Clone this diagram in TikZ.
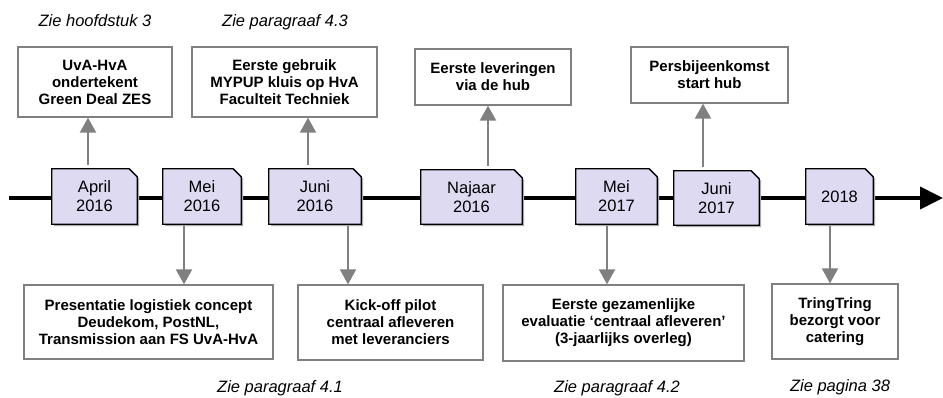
\documentclass[tikz,border=0pt]{standalone}
\usepackage{fontspec}
\setmainfont{Liberation Sans}
\usetikzlibrary{arrows.meta,backgrounds}
\definecolor{boxgray}{RGB}{128,128,128}
\definecolor{arrgray}{RGB}{128,128,128}
\definecolor{datefill}{RGB}{221,218,242}
\definecolor{shadowgray}{RGB}{170,170,170}
\newcommand{\boxfont}{\fontsize{15}{17}\selectfont\bfseries}
\newcommand{\datefont}{\fontsize{16.5}{19}\selectfont}
\newcommand{\notefont}{\fontsize{16.5}{19}\selectfont\itshape}
\begin{document}
\begin{tikzpicture}[x=1pt,y=-1pt,
  infobox/.style={draw=boxgray, line width=1.3pt, fill=white, align=center, font=\boxfont, inner sep=0pt},
  datebox/.style={align=center, font=\datefont, inner sep=0pt},
  note/.style={font=\notefont, anchor=base},
  conn/.style={draw=arrgray, line width=2pt, -{Triangle[length=15pt,width=16pt]}},
  timeline/.style={line width=4pt, -{Triangle[length=23pt,width=22pt]}}
]
\useasboundingbox (0,0) rectangle (943,397);

% top labels
\node[note] (n1) at (95,26) {Zie hoofdstuk 3};
\node[note] (n2) at (285,26) {Zie paragraaf 4.3};
% bottom labels
\node[note] (n3) at (280,392) {Zie paragraaf 4.1};
\node[note] (n4) at (617,392) {Zie paragraaf 4.2};
\node[note] (n5) at (840,391) {Zie pagina 38};

% top boxes
\node[infobox, minimum width=154pt, minimum height=70pt] (t1) at (95,82) {UvA-HvA\\ondertekent\\Green Deal ZES};
\node[infobox, minimum width=185pt, minimum height=70pt] (t2) at (284.5,82) {Eerste gebruik\\MYPUP kluis op HvA\\Faculteit Techniek};
\node[infobox, minimum width=156pt, minimum height=56pt] (t3) at (493,77) {Eerste leveringen\\via de hub};
\node[infobox, minimum width=157pt, minimum height=56pt] (t4) at (709.5,75) {Persbijeenkomst\\start hub};

% bottom boxes
\node[infobox, minimum width=249pt, minimum height=74pt] (b1) at (148.5,322) {Presentatie logistiek concept\\Deudekom, PostNL,\\Transmission aan FS UvA-HvA};
\node[infobox, minimum width=185pt, minimum height=75pt] (b2) at (390.5,322.5) {Kick-off pilot\\centraal afleveren\\met leveranciers};
\node[infobox, minimum width=241pt, minimum height=76pt] (b3) at (623.5,323) {Eerste gezamenlijke\\evaluatie `centraal afleveren'\\(3-jaarlijks overleg)};
\node[infobox, minimum width=126pt, minimum height=75pt] (b4) at (835,321.5) {TringTring\\bezorgt voor\\catering};

% date boxes
\node[datebox, minimum width=85pt, minimum height=55pt] (d1) at (94.5,196.5) {April\\2016};
\node[datebox, minimum width=78pt, minimum height=55pt] (d2) at (202,196.5) {Mei\\2016};
\node[datebox, minimum width=92pt, minimum height=55pt] (d3) at (315,196.5) {Juni\\2016};
\node[datebox, minimum width=101pt, minimum height=54pt] (d4) at (471.5,197) {Najaar\\2016};
\node[datebox, minimum width=81pt, minimum height=55pt] (d5) at (616.5,196.5) {Mei\\2017};
\node[datebox, minimum width=85pt, minimum height=54pt] (d6) at (716.5,198) {Juni\\2017};
\node[datebox, minimum width=67pt, minimum height=55pt] (d7) at (839.5,196.5) {2018};

\begin{scope}[on background layer]
  \coordinate (tlstart) at (9,198);
  \coordinate (tlend) at (943,198);
  \draw[timeline] (tlstart) -- (tlend);
  \foreach \n in {d1,d2,d3,d4,d5,d6,d7} {
    \fill[shadowgray] ([shift={(2pt,-2pt)}]\n.south west) -- ([shift={(2pt,-2pt)}]\n.north west)
      -- ([shift={(-6pt,-2pt)}]\n.north east) -- ([shift={(2pt,-10pt)}]\n.north east)
      -- ([shift={(2pt,-2pt)}]\n.south east) -- cycle;
    \filldraw[fill=datefill, draw=black, line width=1.3pt, line join=miter]
      (\n.south west) -- (\n.north west) -- ([xshift=-8pt]\n.north east)
      -- ([yshift=-8pt]\n.north east) -- (\n.south east) -- cycle;
  }
\end{scope}

% arrow x positions
\coordinate (a1) at (88,0);
\coordinate (a2) at (308,0);
\coordinate (a3) at (488,0);
\coordinate (a4) at (703,0);
\coordinate (c1) at (184,0);
\coordinate (c2) at (348,0);
\coordinate (c3) at (607,0);
\coordinate (c4) at (830,0);

\draw[conn, shorten <=4pt] (d1.north -| a1) -- (t1.south -| a1);
\draw[conn, shorten <=4pt] (d3.north -| a2) -- (t2.south -| a2);
\draw[conn, shorten <=4pt] (d4.north -| a3) -- (t3.south -| a3);
\draw[conn, shorten <=4pt] (d6.north -| a4) -- (t4.south -| a4);

\draw[conn, shorten <=2pt] (d2.south -| c1) -- (b1.north -| c1);
\draw[conn, shorten <=2pt] (d3.south -| c2) -- (b2.north -| c2);
\draw[conn, shorten <=2pt] (d5.south -| c3) -- (b3.north -| c3);
\draw[conn, shorten <=2pt] (d7.south -| c4) -- (b4.north -| c4);
\end{tikzpicture}
\end{document}
